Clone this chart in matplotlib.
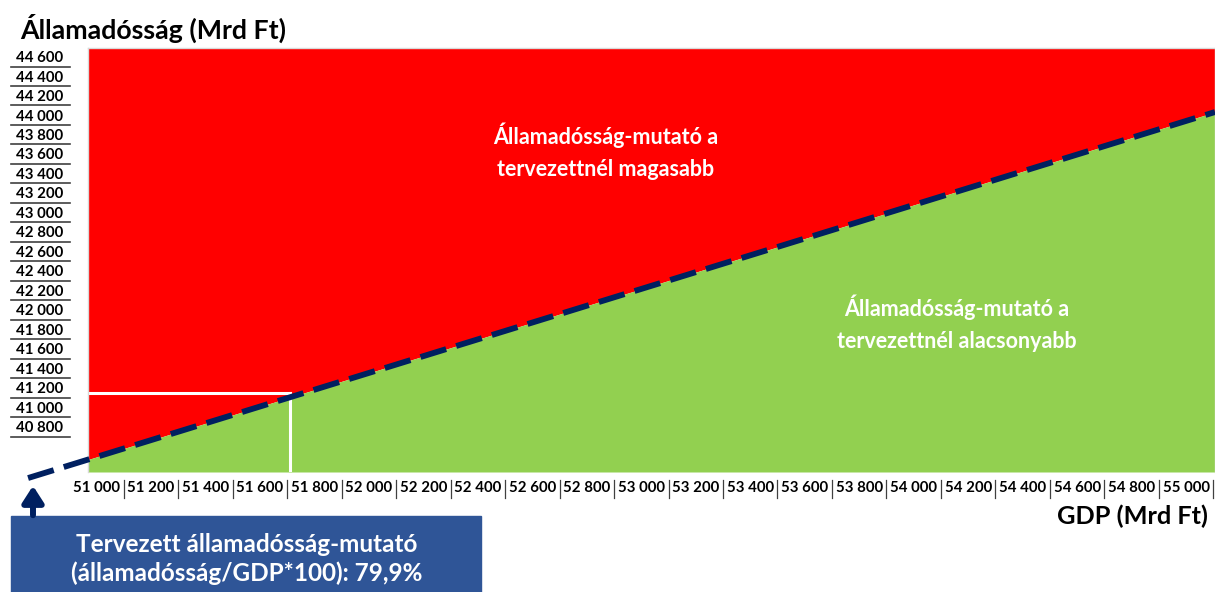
import matplotlib.pyplot as plt
from matplotlib.patches import Rectangle, FancyArrowPatch
from matplotlib.transforms import blended_transform_factory

# GDP (x) and debt (y) values, in Mrd Ft
gdp_ticks = list(range(51000, 55001, 200))
debt_ticks = list(range(40800, 44601, 200))

# target ratio line (79,9%), endpoints
line_gdp = [50749, 55106]
line_debt = [40290, 44046]

# the marked point on the line
mark_gdp = 51710
mark_debt = 41162

x_range = [50969, 55106]
y_range = [40352, 44703]

title = 'Államadósság (Mrd Ft)'
xlabel = 'GDP (Mrd Ft)'
above_text = 'Államadósság-mutató a\ntervezettnél magasabb'
below_text = 'Államadósság-mutató a\ntervezettnél alacsonyabb'
box_text = 'Tervezett államadósság-mutató\n(államadósság/GDP*100): 79,9%'

RED = '#ff0000'
GREEN = '#92d050'
NAVY = '#002060'
BOX = '#2f5597'

plt.rcParams['font.family'] = ['Lato', 'DejaVu Sans']
plt.rcParams['font.weight'] = 'bold'

W, H = 1215, 592
fig = plt.figure(figsize=(W / 100, H / 100), dpi=100)
ax = fig.add_axes([88 / W, (H - 472) / H, (W - 88) / W, 424 / H])
ax.set_xlim(x_range)
ax.set_ylim(y_range)

# areas above / below the line
ax.fill_between(line_gdp, line_debt, y_range[1], color=RED, lw=0)
ax.fill_between(line_gdp, y_range[0], line_debt, color=GREEN, lw=0)

# white guide lines to the marked point
ax.plot([x_range[0], mark_gdp], [mark_debt, mark_debt], color='white', lw=2.2)
ax.plot([mark_gdp, mark_gdp], [y_range[0], mark_debt], color='white', lw=2.2)

ax.plot(line_gdp, line_debt, color=NAVY, lw=4.2, dashes=(4.6, 1.8),
        solid_capstyle='butt', dash_capstyle='butt', clip_on=False, zorder=5)

for s in ax.spines.values():
    s.set_color('#d9d9d9')
    s.set_linewidth(1)
ax.spines['bottom'].set_visible(False)
ax.set_xticks([])
ax.set_yticks([])

# x tick labels with separators
xt = ax.get_xaxis_transform()
for v in gdp_ticks:
    ax.text(v, -0.038, f'{v:,}'.replace(',', ' '), transform=xt,
            ha='center', va='center', fontsize=10.8, fontweight='bold')
    ax.plot([v + 100, v + 100], [-0.019, -0.061], transform=xt,
            color='#404040', lw=0.9, clip_on=False)

# y tick labels with underlines
yt = blended_transform_factory(fig.transFigure, ax.transData)
for v in debt_ticks:
    ax.text(40 / W, v, f'{v:,}'.replace(',', ' '), transform=yt,
            ha='center', va='center', fontsize=10.8, fontweight='bold')
    ax.plot([11 / W, 70 / W], [v - 87, v - 87], transform=yt,
            color='#404040', lw=1.2, clip_on=False)

ax.text(0.459, 0.757, above_text, transform=ax.transAxes, ha='center',
        va='center', color='white', fontsize=15.5, fontweight='bold',
        linespacing=1.65)
ax.text(0.771, 0.351, below_text, transform=ax.transAxes, ha='center',
        va='center', color='white', fontsize=15.5, fontweight='bold',
        linespacing=1.65)

fig.text(20 / W, 1 - 28 / H, title, ha='left', va='center',
         fontsize=19.3, fontweight='bold')
fig.text(1208 / W, 1 - 516 / H, xlabel, ha='right', va='center',
         fontsize=18.3, fontweight='bold')

# annotation box with arrow
fig.patches.append(Rectangle((11 / W, 0), 470 / W, (H - 516) / H,
                             transform=fig.transFigure, color=BOX))
fig.text(247 / W, 1 - 559 / H, box_text, ha='center', va='center',
         color='white', fontsize=17.5, fontweight='bold', linespacing=1.25)
fig.patches.append(FancyArrowPatch((33 / W, 1 - 518 / H), (33 / W, 1 - 483 / H),
                                   transform=fig.transFigure,
                                   arrowstyle='-|>,head_length=0.7,head_width=0.45',
                                   mutation_scale=14, color=NAVY, lw=4.3))

fig.savefig('out.png', dpi=100)
